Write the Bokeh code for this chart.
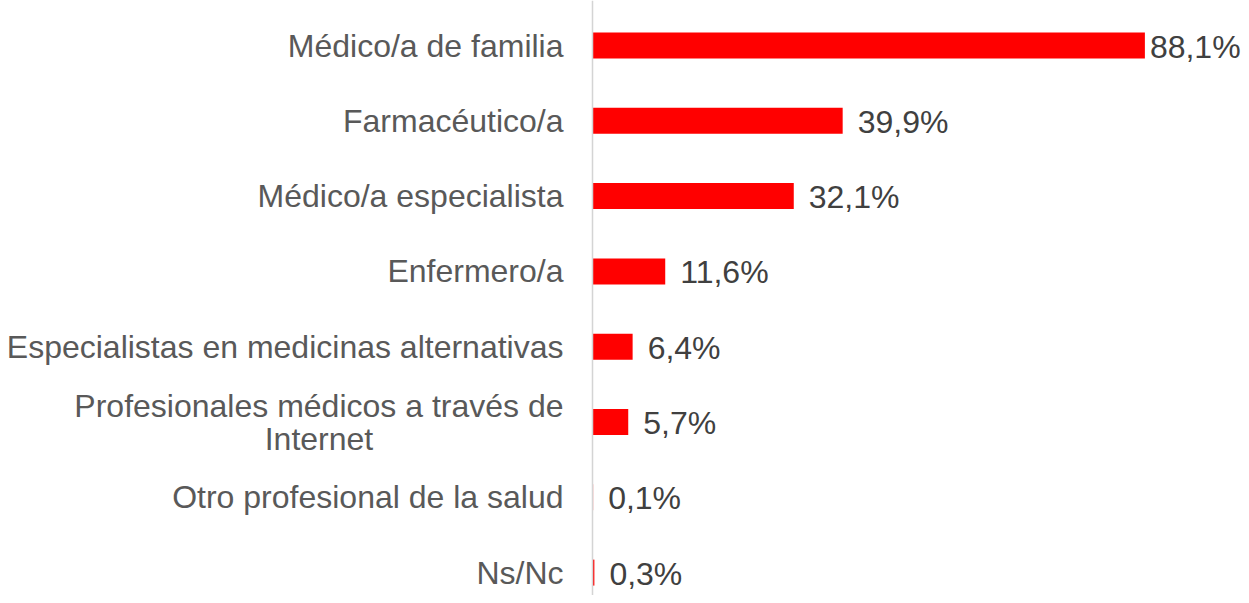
import numpy as np
from bokeh.plotting import figure
from bokeh.models import ColumnDataSource, Range1d, Span
from bokeh.core.properties import value
from bokeh.embed import file_html
from bokeh.resources import INLINE

# ---- data ----
categories = [
    "Médico/a de familia",
    "Farmacéutico/a",
    "Médico/a especialista",
    "Enfermero/a",
    "Especialistas en medicinas alternativas",
    "Profesionales médicos a través de\nInternet",
    "Otro profesional de la salud",
    "Ns/Nc",
]
values = [88.1, 39.9, 32.1, 11.6, 6.4, 5.7, 0.1, 0.3]

# ---- layout / style ----
W, H = 1241, 595
PX_PER_UNIT = 6.27
ZERO_PX = 592
ROW_PX = 75.3
FIRST_ROW_PX = 45
FONT = "Liberation Sans"
FONT_PX = 32
LINE_PX = 33
BAR_COLOR = "#FF0000"
CAT_COLOR = "#595959"
VAL_COLOR = "#404040"

x0 = -ZERO_PX / PX_PER_UNIT
x1 = x0 + W / PX_PER_UNIT
y_top = -FIRST_ROW_PX / ROW_PX
y_bot = (H - FIRST_ROW_PX) / ROW_PX

p = figure(width=W, height=H, output_backend="svg", toolbar_location=None,
           x_range=Range1d(x0, x1), y_range=Range1d(y_bot, y_top),
           x_axis_location=None, y_axis_location=None, min_border=0)
p.grid.visible = False
p.outline_line_color = None
p.background_fill_color = "white"
p.border_fill_color = "white"

idx = list(range(len(categories)))
bars = ColumnDataSource(dict(y=idx, v=values,
                             lbl=[f"{v:.1f}".replace(".", ",") + "%" for v in values],
                             off=[5 if v == max(values) else 15 for v in values]))
p.hbar(y="y", left=0, right="v", height=0.345, source=bars,
       fill_color=BAR_COLOR, line_color=None)

p.text(x="v", y="y", text="lbl", x_offset="off", y_offset=1, source=bars,
       text_font=value(FONT), text_font_size=f"{FONT_PX}px",
       text_color=VAL_COLOR, text_align="left", text_baseline="middle")

# approximate Arial advance widths (em/1000) for centring wrapped lines
AW = {" ": 278, "a": 556, "b": 556, "c": 500, "d": 556, "e": 556, "f": 278, "g": 556,
      "h": 556, "i": 222, "j": 222, "k": 500, "l": 222, "m": 833, "n": 556, "o": 556,
      "p": 556, "q": 556, "r": 333, "s": 500, "t": 278, "u": 556, "v": 500, "w": 722,
      "x": 500, "y": 500, "z": 500, "é": 556, "á": 556, "I": 278, "/": 278}
def tw(s):
    return sum(AW.get(c, 667) for c in s) / 1000 * FONT_PX

cx, cy, ct, co = [], [], [], []
for i, cat in enumerate(categories):
    lines = cat.split("\n")
    n = len(lines)
    maxw = max(tw(l) for l in lines)
    for j, line in enumerate(lines):
        cx.append(-29 / PX_PER_UNIT)
        cy.append(i + (j - (n - 1) / 2) * LINE_PX / ROW_PX)
        ct.append(line)
        co.append(-(maxw - tw(line)) / 2)
cats = ColumnDataSource(dict(x=cx, y=cy, t=ct, o=co))
p.text(x="x", y="y", text="t", x_offset="o", source=cats,
       text_font=value(FONT), text_font_size=f"{FONT_PX}px",
       text_color=CAT_COLOR, text_align="right", text_baseline="middle")

p.add_layout(Span(location=0, dimension="height", line_color="#d4d4d4", line_width=1.5))

open("out.html", "w").write(file_html(p, INLINE))
